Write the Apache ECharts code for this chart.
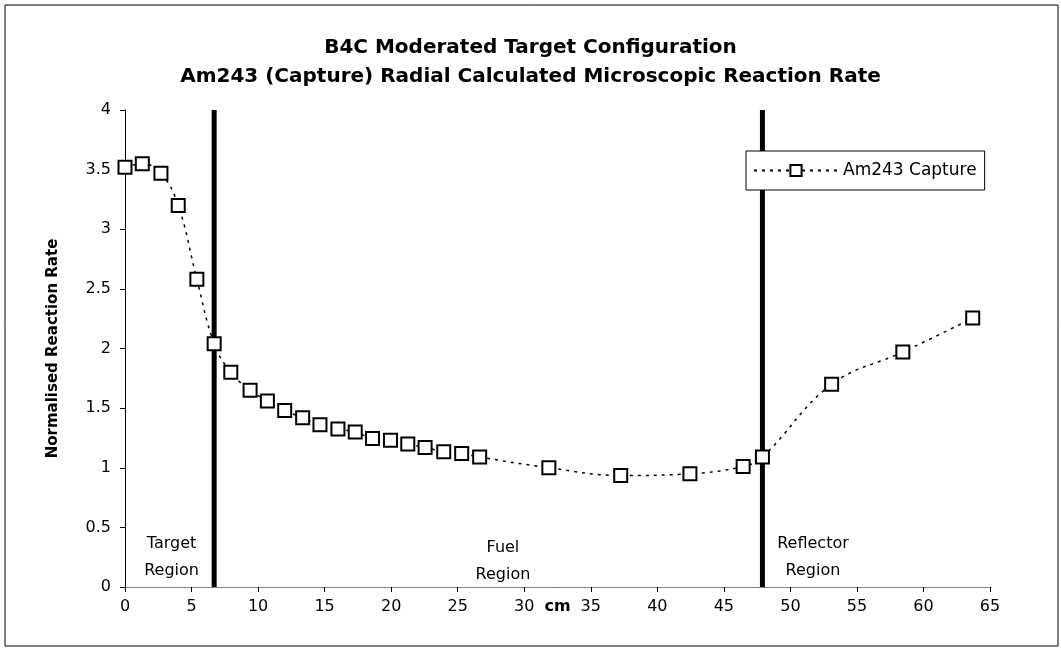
<!DOCTYPE html>
<html>
<head>
<meta charset="utf-8">
<script src="https://cdn.jsdelivr.net/npm/echarts@6/dist/echarts.min.js"></script>
<style>
  html, body { margin: 0; padding: 0; background: #fff; }
  #chart { width: 1061px; height: 649px; }
</style>
</head>
<body>
<div id="chart"></div>
<script>
  // radial position (cm) and normalised reaction rate
  const radius = [0, 1.3, 2.7, 4.0, 5.4, 6.7, 7.95, 9.4, 10.7, 12.0, 13.35, 14.65, 16.0, 17.3, 18.6,
    19.95, 21.25, 22.55, 23.95, 25.3, 26.65, 31.85, 37.25, 42.45, 46.45, 47.9, 53.1, 58.45, 63.7]
  const rate = [3.52, 3.55, 3.47, 3.20, 2.58, 2.04, 1.80, 1.65, 1.56, 1.48, 1.42, 1.36, 1.325, 1.30, 1.245,
    1.23, 1.20, 1.17, 1.135, 1.12, 1.09, 1.0, 0.935, 0.95, 1.01, 1.09, 1.70, 1.97, 2.255]
  // region boundaries (cm)
  const boundaries = [6.7, 47.9]
  const regionNames = ['Target\nRegion', 'Fuel\nRegion', 'Reflector\nRegion']
  // label anchor points for region names
  const regionX = [3.5, 28.4, 51.7]
  const regionY = [0.245, 0.215, 0.245]

  const font = 'DejaVu Sans'
  const chart = echarts.init(document.getElementById('chart'), null, { renderer: 'canvas' })

  const boundarySeries = boundaries.map((b, i) => ({
    name: 'boundary' + i,
    type: 'line',
    data: [[b, 0], [b, 4]],
    symbol: 'none',
    silent: true,
    lineStyle: { color: '#000', width: 5 },
    z: 1
  }))

  const option = {
    backgroundColor: '#fff',
    animation: false,
    textStyle: { fontFamily: font },
    title: {
      text: 'B4C Moderated Target Configuration\nAm243 (Capture) Radial Calculated Microscopic Reaction Rate',
      left: 'center',
      top: 28,
      textStyle: { fontFamily: font, fontSize: 20, fontWeight: 'bold', color: '#000', lineHeight: 29 }
    },
    legend: {
      data: ['Am243 Capture'],
      left: 746,
      top: 151,
      orient: 'vertical',
      padding: [11, 8, 11, 7],
      itemWidth: 84,
      itemHeight: 14,
      borderColor: '#000',
      borderWidth: 1,
      backgroundColor: '#fff',
      textStyle: { fontFamily: font, fontSize: 17, color: '#000' }
    },
    graphic: [{
      type: 'rect',
      shape: { x: 5, y: 5, width: 1053, height: 641 },
      style: { fill: 'none', stroke: '#000', lineWidth: 1 },
      silent: true
    }],
    grid: { left: 125, right: 71, top: 110, bottom: 62 },
    xAxis: [{
      type: 'value',
      min: 0,
      max: 65,
      interval: 5,
      name: 'cm',
      nameLocation: 'middle',
      nameGap: 12,
      nameMoveOverlap: false,
      nameTextStyle: { fontFamily: font, fontSize: 16, fontWeight: 'bold', color: '#000', verticalAlign: 'top' },
      axisLine: { lineStyle: { color: '#000', width: 1 } },
      axisTick: { length: 5, lineStyle: { color: '#000' } },
      axisLabel: { fontFamily: font, fontSize: 16, color: '#000', margin: 12 },
      splitLine: { show: false }
    }, {
      type: 'value',
      position: 'top',
      min: 0,
      max: 65,
      axisLine: { lineStyle: { color: '#808080', width: 1 } },
      axisTick: { show: false },
      axisLabel: { show: false },
      splitLine: { show: false }
    }],
    yAxis: [{
      type: 'value',
      min: 0,
      max: 4,
      interval: 0.5,
      name: 'Normalised Reaction Rate',
      nameLocation: 'middle',
      nameGap: 64,
      nameTextStyle: { fontFamily: font, fontSize: 15, fontWeight: 'bold', color: '#000' },
      axisLine: { show: true, lineStyle: { color: '#000', width: 1 } },
      axisTick: { show: true, length: 5, lineStyle: { color: '#000' } },
      axisLabel: { fontFamily: font, fontSize: 16, color: '#000', margin: 14 },
      splitLine: { show: false }
    }, {
      type: 'value',
      position: 'right',
      min: 0,
      max: 4,
      axisLine: { show: true, lineStyle: { color: '#000', width: 1 } },
      axisTick: { show: false },
      axisLabel: { show: false },
      splitLine: { show: false }
    }],
    series: [
      ...boundarySeries,
      {
        name: 'regions',
        type: 'scatter',
        data: regionNames.map((n, i) => ({ name: n, value: [regionX[i], regionY[i]] })),
        symbolSize: 1,
        itemStyle: { color: 'rgba(0,0,0,0)', opacity: 1 },
        silent: true,
        label: {
          show: true,
          position: 'inside',
          formatter: p => p.name,
          fontFamily: font,
          fontSize: 16,
          color: '#000',
          textBorderWidth: 0,
          lineHeight: 27
        }
      },
      {
        name: 'Am243 Capture',
        type: 'line',
        data: radius.map((x, i) => [x, rate[i]]),
        smooth: 0.4,
        symbol: 'rect',
        symbolSize: 13,
        showAllSymbol: true,
        lineStyle: { color: '#000', width: 1.5, type: [3, 5] },
        itemStyle: { color: '#fff', borderColor: '#000', borderWidth: 2 },
        z: 3
      }
    ]
  }
  chart.setOption(option)
</script>
</body>
</html>
